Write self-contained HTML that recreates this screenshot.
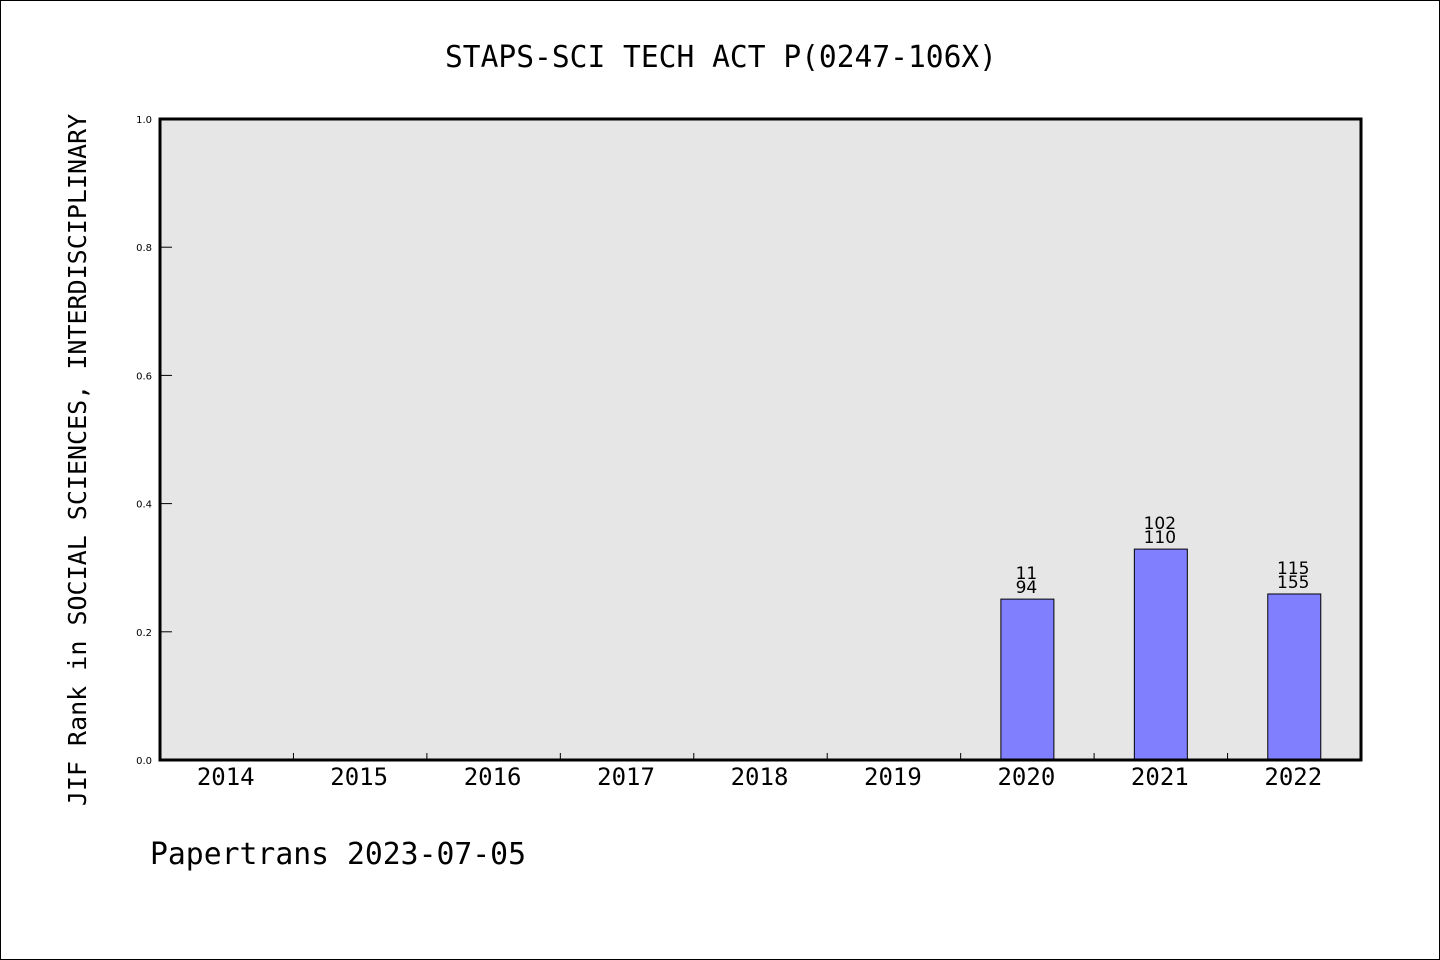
<!DOCTYPE html>
<html><head><meta charset="utf-8"><style>
html,body{margin:0;padding:0;background:#fff}
svg{display:block}
text{font-family:"DejaVu Sans Mono","Liberation Mono",monospace;fill:#000}
.sans{font-family:"DejaVu Sans","Liberation Sans",sans-serif}
</style></head><body>
<svg id="chart" width="1440" height="960" viewBox="0 0 1440 960">
<rect x="0.5" y="0.5" width="1439" height="959" fill="#fff" stroke="#000"/>
<text x="721" y="67" text-anchor="middle" font-size="30" textLength="552" lengthAdjust="spacingAndGlyphs">STAPS-SCI TECH ACT P(0247-106X)</text>
<rect x="160" y="119" width="1201" height="641" fill="#e6e6e6"/>
<g id="marks"></g>
<rect x="160" y="119" width="1201" height="641" fill="none" stroke="#000" stroke-width="3"/>
<text transform="translate(86,460) rotate(-90)" text-anchor="middle" font-size="25">JIF Rank in SOCIAL SCIENCES, INTERDISCIPLINARY</text>
<text x="150" y="864" font-size="30" textLength="376" lengthAdjust="spacingAndGlyphs">Papertrans 2023-07-05</text>
</svg>
<script>
const categories=["2014","2015","2016","2017","2018","2019","2020","2021","2022"];
const values=[null,null,null,null,null,null,0.251,0.329,0.259];
const labelTop=[null,null,null,null,null,null,"11","102","115"];
const labelBottom=[null,null,null,null,null,null,"94","110","155"];
const yTicks=[0,0.2,0.4,0.6,0.8,1.0];
const L=160,R=1361,T=119,B=760;
const step=(R-L)/categories.length;
const xc=i=>L+step*(i+0.5);
const y=v=>B-(B-T)*v;
const NS="http://www.w3.org/2000/svg";
const g=document.getElementById('marks');
function mk(t,a){const e=document.createElementNS(NS,t);for(const k in a)e.setAttribute(k,a[k]);g.appendChild(e);return e;}
yTicks.forEach(v=>{
  const l=mk('line',{x1:L,x2:L+12,y1:y(v),y2:y(v),stroke:'#000','stroke-width':1});
  
  
  const t=mk('text',{x:L-8,y:y(v)+4,'text-anchor':'end','font-size':10,'class':'sans'});
  t.textContent=v.toFixed(1);
  
  
});
categories.forEach((c,i)=>{
  if(i>0){const l=mk('line',{x1:L+step*i,x2:L+step*i,y1:B,y2:B-7,stroke:'#000','stroke-width':1});
  
  }
  const t=mk('text',{x:xc(i)-1,y:B+25,'text-anchor':'middle','font-size':24});
  t.textContent=c;
  
  
  if(values[i]!=null){
    const bw=53;
    const r=mk('rect',{x:xc(i)-bw/2,y:y(values[i]),width:bw,height:B-y(values[i]),fill:'#8080ff',stroke:'#000','stroke-width':1});
    
    
    const a=mk('text',{x:xc(i)-1,y:y(values[i])-20,'text-anchor':'middle','font-size':17,'class':'sans'});
    a.textContent=labelTop[i];
    
    
    const b=mk('text',{x:xc(i)-1,y:y(values[i])-6,'text-anchor':'middle','font-size':17,'class':'sans'});
    b.textContent=labelBottom[i];
    
    
  }
});
</script>
</body></html>
